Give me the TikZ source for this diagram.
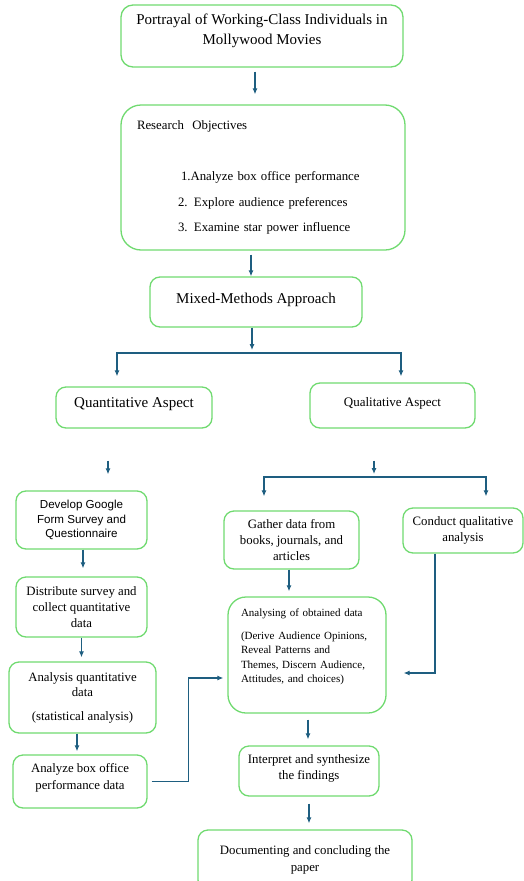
\documentclass[tikz,border=0pt]{standalone}
\usepackage{fontspec}
\usetikzlibrary{arrows.meta}
\setmainfont{Liberation Serif}
\newfontfamily\arialfont{Liberation Sans}
\definecolor{boxGreen}{RGB}{112, 218, 112}
\definecolor{arrowBlue}{RGB}{30, 94, 128}

\begin{document}
\begin{tikzpicture}[x=1pt, y=-1pt,
    box/.style={draw=boxGreen, line width=1.3pt, rounded corners=10pt, align=center,
      inner sep=0pt, font=\fontsize{12.8}{16}\selectfont},
    arr/.style={-{Latex[length=6pt,width=5pt]}, draw=arrowBlue, line width=1.1pt}]
  \useasboundingbox (0,0) rectangle (523,881);
  \node[box, rounded corners=12pt, minimum width=282pt, minimum height=62pt,
    font=\fontsize{15}{20}\selectfont] (title) at (262,36)
    {Portrayal of Working-Class Individuals in\\Mollywood Movies\\[-6.5pt]\mbox{}};
  \node[box, rounded corners=20pt, minimum width=284pt, minimum height=145pt, align=left,
    text width=252pt, inner xsep=16pt, font=\fontsize{12.8}{15.6}\selectfont] (objectives) at (263,177.5)
    {Research\ \ Objectives\\[36pt]
     \hspace*{44pt}1.Analyze box office performance\\[10pt]
     \hspace*{41pt}2. Explore audience preferences\\[10pt]
     \hspace*{41pt}3. Examine star power influence};
  \node[box, minimum width=212pt, minimum height=50pt, font=\fontsize{15}{18}\selectfont] (mixed) at (256,302)
    {Mixed-Methods Approach\\[-10pt]\mbox{}};
  \node[box, minimum width=156pt, minimum height=41pt, font=\fontsize{15}{18}\selectfont] (quant) at (134,407.5)
    {Quantitative Aspect\\[-8pt]\mbox{}};
  \node[box, minimum width=165pt, minimum height=45pt, font=\fontsize{13}{16}\selectfont] (qual) at (392.5,405.5)
    {Qualitative Aspect\\[-9pt]\mbox{}};
  \node[box, minimum width=131pt, minimum height=58pt, font=\arialfont\fontsize{11.6}{14.5}\selectfont] (develop) at (81.5,520)
    {Develop Google\\Form Survey and\\Questionnaire};
  \node[box, minimum width=135pt, minimum height=58pt] (gather) at (291.5,540)
    {Gather data from\\books, journals, and\\articles};
  \node[box, minimum width=120pt, minimum height=45pt] (conduct) at (463,530.5)
    {Conduct qualitative\\analysis};
  \node[box, minimum width=131pt, minimum height=60pt] (distribute) at (81.5,607)
    {Distribute survey and\\collect quantitative\\data};
  \node[box, minimum width=147pt, minimum height=71pt, font=\fontsize{12.8}{15}\selectfont] (analysis) at (82.5,697.5)
    {Analysis quantitative\\data\\[9pt](statistical analysis)};
  \node[box, minimum width=134pt, minimum height=53pt, font=\fontsize{12.8}{17}\selectfont] (boxoffice) at (80,781.5)
    {Analyze box office\\performance data\\[-7pt]\mbox{}};
  \node[box, rounded corners=18pt, minimum width=158pt, minimum height=116pt, align=left,
    text width=132pt, inner xsep=13pt, font=\fontsize{11}{14.3}\selectfont] (analysing) at (307,655)
    {\mbox{Analysing of obtained data}\\[9pt]
     \mbox{(Derive Audience Opinions,}\\
     \mbox{Reveal Patterns and}\\
     \mbox{Themes, Discern Audience,}\\
     \mbox{Attitudes, and choices)}\\[4.5pt]\mbox{}};
  \node[box, minimum width=140pt, minimum height=50pt] (interpret) at (309,771)
    {Interpret and synthesize\\the findings\\[-8pt]\mbox{}};
  \node[box, minimum width=214pt, minimum height=60pt, font=\fontsize{12.8}{17}\selectfont] (documenting) at (305,860)
    {Documenting and concluding the\\paper};

  \draw[arr, shorten <=4pt, shorten >=10pt] ([xshift=-7pt]title.south) -- ([xshift=-7pt]title.south |- objectives.north);
  \draw[arr, shorten <=4pt] ([xshift=-12pt]objectives.south) -- ([xshift=-5pt]mixed.north);
  \coordinate (mixfork) at (252,353);
  \draw[arr, shorten >=3pt] ([xshift=-4pt]mixed.south) -- (mixfork);
  \draw[arr] (mixfork) -| ([xshift=-17pt, yshift=10pt]quant.north);
  \draw[arr] (mixfork) -| ([xshift=8.5pt, yshift=6pt]qual.north);
  \draw[arr, shorten <=32pt, shorten >=16pt] ([xshift=-26pt]quant.south) -- ([xshift=-26pt]quant.south |- develop.north);
  \coordinate (qualfork) at (374,477);
  \draw[arr, shorten <=32pt, shorten >=3pt] ([xshift=-18.5pt]qual.south) -- (qualfork);
  \draw[arr] (qualfork) -| ([xshift=-27.5pt, yshift=14pt]gather.north);
  \draw[arr] (qualfork) -| ([xshift=23pt, yshift=11pt]conduct.north);
  \draw[arr, shorten >=8pt] ([xshift=1.5pt]develop.south) -- ([xshift=1.5pt]distribute.north);
  \draw[arr, shorten >=4pt] (distribute.south) -- (distribute.south |- analysis.north);
  \draw[arr, shorten >=3pt] ([xshift=-5.5pt]analysis.south) -- ([xshift=-3pt]boxoffice.north);
  \draw[arr, shorten <=4pt, shorten >=4pt] (boxoffice.east) -- ++(41,0) |- ([yshift=-23pt]analysing.west);
  \draw[arr, shorten >=5pt] ([xshift=-2.5pt]gather.south) -- ([xshift=-2.5pt]gather.south |- analysing.north);
  \draw[arr, shorten >=17pt] ([xshift=-28pt]conduct.south) |- ([yshift=-18pt]analysing.east);
  \draw[arr, shorten <=6pt, shorten >=6pt] ([xshift=1pt]analysing.south) -- ([xshift=-1pt]interpret.north);
  \draw[arr, shorten <=7pt, shorten >=6pt] (interpret.south) -- (interpret.south |- documenting.north);
\end{tikzpicture}
\end{document}
